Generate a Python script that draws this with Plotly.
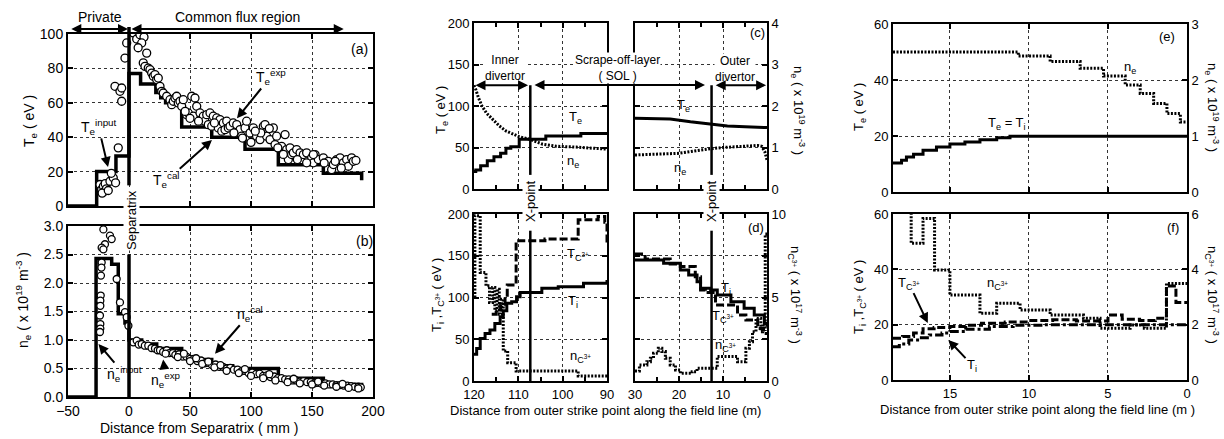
import plotly.graph_objects as go

W, H = 1224, 439
FONT = "Arial, Liberation Sans, Helvetica, sans-serif"

# ======================= DATA =======================
# (a) Te vs distance from separatrix (mm)
te_cal_x = [-50, -26.5, -10.7, 0, 9.5, 22, 26, 30, 43.2, 67.8, 95.1, 122.4, 159.3, 190.7]
te_cal_y = [0, 20, 29, 77, 71, 66, 63, 60, 46, 40, 33, 24, 19, 15]
te_exp = [(-23.8, 12.5), (-22.4, 9.6), (-21.0, 11.5), (-20.0, 8.6), (-19.5, 13.0), (-18.5, 10.0),
          (-22.0, 7.5), (-17.0, 9.0), (-15.6, 14.4), (-12.9, 16.4), (-14.5, 19.0), (-11.0, 13.5),
          (-8.8, 33.8), (-11.5, 69.6), (-7.4, 66.7), (-6.0, 68.6), (-6.0, 60.9), (-3.3, 86.0), (-1.9, 94.8),
          (3.6, 100.6), (6.3, 97.1), (9.0, 99.6), (12.3, 98.2), (10.4, 94.8), (7.5, 92.0), (14.5, 88.9),
          (11.7, 83.2), (13.1, 81.2), (15.8, 80.2), (17.2, 79.3), (18.6, 77.3), (19.9, 75.4), (21.3, 76.4),
          (22.7, 73.5), (24.0, 74.4), (25.4, 69.6), (26.8, 66.7), (28.1, 65.7), (30.9, 63.8), (33.6, 61.8),
          (35.0, 58.9), (36.3, 60.9), (37.7, 62.8), (39.1, 63.8), (40.4, 59.9), (41.8, 60.9), (43.2, 58.0),
          (44.5, 61.8), (47.3, 53.1), (48.6, 54.1), (51.4, 63.8), (52.7, 52.2), (54.1, 62.8), (55.5, 58.0),
          (58.2, 54.1), (59.6, 50.2), (60.9, 52.2), (62.3, 49.3), (63.7, 53.1), (65.0, 47.3), (66.4, 54.1),
          (67.8, 46.4), (69.1, 52.2), (71.9, 51.2), (73.2, 45.4), (74.6, 50.2), (76.0, 43.5), (77.3, 48.3),
          (78.7, 44.4), (80.1, 49.3), (81.4, 45.4), (82.8, 46.4), (85.5, 48.3), (88.3, 47.3), (91.0, 44.4),
          (92.3, 40.6), (95.1, 45.4), (96.4, 49.3), (99.2, 42.5), (101.9, 45.4), (104.6, 40.6), (107.4, 38.6),
          (110.1, 46.4), (111.5, 47.3), (112.8, 40.6), (115.6, 38.6), (118.3, 45.4), (119.7, 35.7),
          (121.0, 40.6), (125.1, 34.7), (127.9, 41.5), (129.2, 32.8), (130.6, 27.0), (132.0, 33.8),
          (133.3, 29.9), (134.7, 30.9), (137.4, 32.8), (140.2, 30.9), (142.9, 29.9), (145.6, 30.9),
          (149.7, 28.0), (151.1, 25.1), (152.5, 29.9), (155.2, 27.0), (159.3, 28.0), (163.4, 26.0),
          (166.1, 21.2), (167.5, 24.1), (170.2, 27.0), (173.0, 28.0), (175.7, 25.1), (178.4, 27.0),
          (179.8, 23.1), (182.5, 28.0), (183.9, 26.0), (145.6, 25.1), (151.1, 29.9), (138.0, 27.0),
          (122.0, 33.8), (108.0, 42.5), (100.0, 37.0), (93.0, 39.5), (86.0, 42.5), (70.0, 48.3),
          (57.0, 49.3), (46.0, 55.0), (50.0, 51.0), (115.0, 45.0), (103.5, 43.5), (126.5, 30.0),
          (160.0, 25.0), (169.0, 26.0), (186.0, 26.5), (174.0, 22.0)]

# (b) ne vs distance from separatrix (mm)
ne_cal_x = [-50, -27, -14.2, -8.8, -3.3, 0, 10.4, 22.7, 43.2, 50, 67.8, 85, 122.4, 159.3, 190.7]
ne_cal_y = [0, 2.43, 2.33, 1.46, 1.3, 1.0, 0.93, 0.85, 0.70, 0.66, 0.55, 0.50, 0.33, 0.22, 0.13]
ne_exp = [(-21.0, 2.94), (-15.6, 2.83), (-14.2, 2.77), (-19.7, 2.68), (-22.4, 2.62), (-21.0, 2.59),
          (-22.4, 2.36), (-22.6, 2.27), (-23.0, 2.13), (-23.2, 1.78), (-23.5, 1.69), (-23.5, 1.60),
          (-23.8, 1.43), (-23.5, 1.28), (-23.5, 1.20), (-23.8, 1.14), (-10.1, 2.07), (-7.4, 1.66),
          (-3.3, 1.49), (-1.9, 1.40), (-0.5, 1.25),
          (3.5, 0.96), (6.3, 0.99), (8.0, 0.92), (10.4, 0.93), (13.0, 0.90), (15.8, 0.90), (18.5, 0.86),
          (21.3, 0.85), (23.5, 0.82), (25.4, 0.82), (28, 0.79), (31, 0.82), (33, 0.77), (36, 0.77),
          (38, 0.74), (41, 0.75), (44, 0.71), (47, 0.71), (50, 0.67), (53, 0.67), (56, 0.63), (59, 0.64),
          (62, 0.59), (65, 0.60), (68, 0.56), (71, 0.57), (74, 0.53), (77, 0.53), (80, 0.50), (83, 0.51),
          (86, 0.48), (89, 0.48), (92, 0.45), (95, 0.46), (98, 0.42), (101, 0.43), (104, 0.40), (107, 0.41),
          (110, 0.37), (113, 0.38), (116, 0.35), (119, 0.36), (122, 0.33), (125, 0.33), (128, 0.31),
          (131, 0.31), (134, 0.29), (137, 0.29), (140, 0.27), (143, 0.28), (146, 0.26), (149, 0.26),
          (152, 0.24), (155, 0.25), (158, 0.23), (161, 0.24), (164, 0.22), (167, 0.22), (170, 0.21),
          (173, 0.21), (176, 0.20), (179, 0.20), (182, 0.19), (185, 0.18), (188, 0.18), (190, 0.17),
          (30, 0.76), (40, 0.70), (50, 0.63), (60, 0.58), (70, 0.52), (80, 0.46), (90, 0.42), (100, 0.37),
          (110, 0.33), (120, 0.29), (130, 0.26), (140, 0.24), (150, 0.22), (160, 0.20), (170, 0.18),
          (180, 0.16), (188, 0.15), (45, 0.76), (55, 0.68), (65, 0.62), (75, 0.56), (95, 0.49),
          (115, 0.40), (135, 0.32), (155, 0.27), (175, 0.23)]

# (c) Te (eV) and ne (1e19 m^-3) along field line (m); inner leg 120..90, outer leg 30..0
c_te_in_x = [120, 119.6, 118.5, 117, 115.5, 114, 112.8, 111.7, 109.8, 103.8, 95.9, 90]
c_te_in_y = [21, 23, 28, 34, 39, 43, 49, 51, 60, 64, 67, 68]
c_ne_in_x = [120, 119.6, 119.0, 118.2, 117.2, 115.8, 114.3, 112.8, 111.3, 109.8, 107.5, 104.5, 101.5, 97, 90]
c_ne_in_y = [2.5, 2.4, 2.2, 2.0, 1.83, 1.68, 1.52, 1.40, 1.32, 1.26, 1.20, 1.08, 1.03, 1.01, 0.96]
c_te_out_x = [30, 22, 17.4, 12.8, 9, 5, 0]
c_te_out_y = [85.2, 84.4, 81, 78.4, 76, 75, 74]
c_ne_out_x = [30, 24, 20, 17.4, 15, 12.8, 10, 6, 3, 2.1, 1.2, 0.5, 0]
c_ne_out_y = [0.82, 0.84, 0.86, 0.90, 0.94, 0.97, 1.0, 1.03, 1.05, 1.05, 1.03, 0.90, 0.70]

# (d) Ti, TC3+ (eV) and nC3+ (1e17 m^-3)
d_ti_in_x = [120, 119.4, 118.6, 117.5, 116.4, 115.3, 114.1, 113.4, 112.6, 111.5, 110.4, 109.6, 105.1, 104.7, 101.4, 101, 96, 95.3, 90]
d_ti_in_y = [32, 39, 51, 57, 61, 69, 77, 84, 93, 95, 101, 106, 106, 111, 111, 113, 113, 117, 121]
d_tc_in_x = [116, 115, 114, 113, 112.5, 111, 110.5, 110.5, 104, 96.5, 96.5, 93, 92, 90.5, 90]
d_tc_in_y = [80, 85, 92, 100, 115, 115, 125, 168, 170, 170, 193, 193, 197, 190, 165]
d_nc_in_x = [119.8, 119.8, 118.6, 118.6, 117.3, 116.5, 115.8, 115.3, 114.8, 114.3, 113.8, 113.4, 113.4, 112.4, 110.5, 96.5, 90]
d_nc_in_y = [5.0, 9.9, 9.0, 6.5, 5.7, 4.7, 5.6, 4.2, 5.5, 4.0, 4.9, 3.5, 1.8, 1.1, 0.6, 0.3, 0.3]
d_ti_out_x = [30, 26.6, 23.5, 19.7, 17.8, 15.9, 15.1, 12.8, 11.3, 8.2, 5.2, 2.9, 0.6, 0]
d_ti_out_y = [145, 145, 141, 133, 127, 119, 111, 109, 103, 95, 87, 79, 69, 65]
d_tc_out_x = [30, 27.7, 27.7, 22.0, 19.7, 16.3, 16.3, 15.1, 14.0, 11.7, 6.7, 4.8, 2.1, 0.8, 0]
d_tc_out_y = [152, 152, 146, 140, 137, 137, 125, 109, 106, 91, 79, 73, 63, 57, 57]
d_nc_out_x = [30, 29, 27.3, 26.5, 25.8, 24.7, 23.9, 23.1, 22, 20.8, 19.7, 17, 15.9, 12.2, 11.3, 6.7, 5.2, 4.8, 4.0, 3.3, 2.5, 1.4, 1.0, 0.4, 0.4, 0]
d_nc_out_y = [0.6, 0.96, 1.16, 1.36, 1.66, 1.96, 1.76, 1.36, 0.96, 0.66, 0.46, 0.56, 0.76, 0.76, 1.46, 1.16, 1.16, 1.96, 2.35, 2.95, 3.75, 2.95, 3.4, 3.0, 8.8, 8.8]

# (e) Te = Ti (eV) and ne (1e19 m^-3)
e_te_x = [18.6, 18.06, 17.75, 17.3, 16.7, 15.85, 15.0, 14.05, 13.1, 12.04, 11.2, 0]
e_te_y = [10.4, 11.3, 12.5, 13.5, 14.9, 16.1, 17.1, 17.9, 18.7, 19.4, 19.9, 20.0]
e_ne_x = [18.6, 10.67, 8.66, 6.76, 5.28, 3.91, 2.96, 2.11, 1.27, 0.42, 0]
e_ne_y = [2.50, 2.43, 2.33, 2.21, 2.07, 1.91, 1.76, 1.58, 1.40, 1.25, 1.25]

# (f) Ti, TC3+ (eV) and nC3+ (1e17 m^-3)
f_nc_x = [17.45, 17.45, 16.7, 15.97, 15.0, 13.1, 12.04, 10.56, 8.66, 6.55, 5.5, 3.6, 2.7, 1.3, 0]
f_nc_y = [6.3, 4.94, 5.84, 3.98, 3.07, 2.41, 2.77, 2.53, 2.35, 2.23, 1.87, 1.99, 1.87, 3.49, 3.49]
f_tc_x = [18.6, 18.0, 17.3, 16.7, 16.0, 15.0, 14.0, 13.0, 11.5, 10.0, 8.5, 7.0, 5.0, 4.1, 3.0, 2.0, 1.3, 0.7, 0]
f_tc_y = [15.1, 15.7, 17.0, 18.5, 19.0, 19.3, 19.8, 20.5, 21.0, 21.5, 21.8, 21.3, 23.5, 22.0, 21.5, 22.3, 34.0, 28.0, 28.0]
f_ti_x = [18.6, 18.2, 17.6, 16.9, 16.3, 15.5, 15.0, 14.0, 12.5, 11.0, 9.0, 7.0, 5.0, 3.0, 1.3, 0]
f_ti_y = [12.0, 13.0, 14.5, 15.3, 16.3, 17.0, 17.5, 18.3, 19.3, 19.8, 20.0, 20.0, 20.0, 20.0, 20.0, 20.0]

# positions of separatrix / X-points (data units)
x_sep = 0
x_xpt_in = 107.3
x_xpt_out = 12.6

# ======================= FIGURE =======================
fig = go.Figure()

DOT = "2px,1.5px"
DASH = "8px,3px"
DASHDOT = "9px,3px,3px,3px"


def line(x, y, xa, ya, dash="solid", width=3, shape="hv"):
    fig.add_trace(go.Scatter(x=x, y=y, xaxis=xa, yaxis=ya, mode="lines",
                             line=dict(color="black", width=width, dash=dash, shape=shape),
                             showlegend=False, hoverinfo="skip"))


def circles(pts, xa, ya, size):
    fig.add_trace(go.Scatter(x=[p[0] for p in pts], y=[p[1] for p in pts], xaxis=xa, yaxis=ya,
                             mode="markers",
                             marker=dict(symbol="circle", size=size, color="white",
                                         line=dict(color="black", width=1.3)),
                             showlegend=False, hoverinfo="skip", cliponaxis=True))


# (a)
line(te_cal_x, te_cal_y, "x", "y", width=3.5)
circles(te_exp, "x", "y", 8)
# (b)
line(ne_cal_x, ne_cal_y, "x2", "y2", width=3.5)
circles(ne_exp, "x2", "y2", 7)
# (c)
line(c_te_in_x, c_te_in_y, "x3", "y3", width=3)
line(c_ne_in_x, c_ne_in_y, "x3", "y4", dash=DOT, width=3, shape="linear")
line(c_te_out_x, c_te_out_y, "x4", "y5", width=3, shape="linear")
line(c_ne_out_x, c_ne_out_y, "x4", "y6", dash=DOT, width=3, shape="linear")
# (d)
line(d_ti_in_x, d_ti_in_y, "x5", "y7", width=3)
line(d_tc_in_x, d_tc_in_y, "x5", "y7", dash=DASH, width=3)
line(d_nc_in_x, d_nc_in_y, "x5", "y8", dash=DOT, width=3)
line(d_ti_out_x, d_ti_out_y, "x6", "y9", width=3)
line(d_tc_out_x, d_tc_out_y, "x6", "y9", dash=DASH, width=3)
line(d_nc_out_x, d_nc_out_y, "x6", "y10", dash=DOT, width=3)
# (e)
line(e_te_x, e_te_y, "x7", "y11", width=3)
line(e_ne_x, e_ne_y, "x7", "y12", dash=DOT, width=3)
# (f)
line(f_nc_x, f_nc_y, "x8", "y14", dash=DOT, width=3)
line(f_tc_x, f_tc_y, "x8", "y13", dash=DASH, width=3)
line(f_ti_x, f_ti_y, "x8", "y13", dash=DASHDOT, width=3)


def base_axis(size=13, **kw):
    d = dict(showline=True, linecolor="black", linewidth=2, mirror="ticks", ticks="inside",
             ticklen=5, tickwidth=1.5, tickcolor="black", showgrid=True, gridcolor="#333",
             griddash="dot", gridwidth=1, zeroline=False,
             tickfont=dict(size=size, color="black", family=FONT))
    d.update(kw)
    return d


def hdom(a, b):
    return [a / W, b / W]


def vdom(top, bottom):
    return [1 - bottom / H, 1 - top / H]


DA = hdom(68, 373)
DCL = hdom(474, 607)
DCR = hdom(635, 767)
DE = hdom(893, 1187)
YA = vdom(34, 206)
YB = vdom(226, 397)
YC = vdom(23, 189)
YD = vdom(214, 381)
YE = vdom(24, 192)
YF = vdom(214, 380)

minor5 = dict(dtick=5, ticks="inside", ticklen=4, tickcolor="black", showgrid=False)

layout_axes = dict(
    xaxis=base_axis(14, domain=DA, range=[-50, 200], dtick=50, anchor="y", showticklabels=False),
    yaxis=base_axis(14, domain=YA, range=[0, 100], dtick=20, anchor="x"),
    xaxis2=base_axis(14, domain=DA, range=[-50, 200], dtick=50, anchor="y2"),
    yaxis2=base_axis(14, domain=YB, range=[0, 3], dtick=0.5, tickformat=".1f", anchor="x2"),
    xaxis3=base_axis(domain=DCL, range=[120, 90], dtick=10, anchor="y3", showticklabels=False, minor=minor5),
    yaxis3=base_axis(domain=YC, range=[0, 200], dtick=50, anchor="x3"),
    yaxis4=dict(overlaying="y3", anchor="x3", range=[0, 4], visible=False),
    xaxis4=base_axis(domain=DCR, range=[30, 0], dtick=10, anchor="y5", showticklabels=False, minor=minor5),
    yaxis5=base_axis(domain=YC, range=[0, 200], dtick=50, anchor="x4", showticklabels=False),
    yaxis6=base_axis(overlaying="y5", anchor="x4", side="right", range=[0, 4], dtick=1, showgrid=False),
    xaxis5=base_axis(domain=DCL, range=[120, 90], dtick=10, anchor="y7", minor=minor5),
    yaxis7=base_axis(domain=YD, range=[0, 200], dtick=50, anchor="x5"),
    yaxis8=dict(overlaying="y7", anchor="x5", range=[0, 10], visible=False),
    xaxis6=base_axis(domain=DCR, range=[30, 0], dtick=10, anchor="y9", minor=minor5),
    yaxis9=base_axis(domain=YD, range=[0, 200], dtick=50, anchor="x6", showticklabels=False),
    yaxis10=base_axis(overlaying="y9", anchor="x6", side="right", range=[0, 10], dtick=5, showgrid=False),
    xaxis7=base_axis(domain=DE, range=[18.6, 0], dtick=5, anchor="y11", showticklabels=False),
    yaxis11=base_axis(domain=YE, range=[0, 60], dtick=20, anchor="x7"),
    yaxis12=base_axis(overlaying="y11", anchor="x7", side="right", range=[0, 3], dtick=1, showgrid=False),
    xaxis8=base_axis(domain=DE, range=[18.6, 0], dtick=5, anchor="y13"),
    yaxis13=base_axis(domain=YF, range=[0, 60], dtick=20, anchor="x8"),
    yaxis14=base_axis(overlaying="y13", anchor="x8", side="right", range=[0, 6], dtick=2, showgrid=False),
)

ann = []


def ptxt(xp, yp, s, size=13, angle=0, bg=None):
    a = dict(x=xp / W, y=1 - yp / H, xref="paper", yref="paper", text=s, showarrow=False,
             textangle=angle, font=dict(size=size, color="black", family=FONT),
             xanchor="center", yanchor="middle")
    if bg:
        a["bgcolor"] = bg
        a["borderpad"] = 0
    ann.append(a)


def dtxt(x, y, s, xr, yr, size=13):
    ann.append(dict(x=x, y=y, xref=xr, yref=yr, text=s, showarrow=False,
                    font=dict(size=size, color="black", family=FONT),
                    xanchor="center", yanchor="middle"))


def darrow(x, y, tx, ty, s, xr, yr, size=13):
    ann.append(dict(x=x, y=y, ax=tx, ay=ty, xref=xr, yref=yr, axref=xr, ayref=yr, text=s,
                    showarrow=True, arrowhead=2, arrowsize=1, arrowwidth=2, arrowcolor="black",
                    font=dict(size=size, color="black", family=FONT)))


def dbl(x0, x1, xr, yv, yr):
    # double-headed horizontal arrow from x0 to x1 at height yv
    ann.append(dict(x=x1, y=yv, ax=x0, ay=yv, xref=xr, yref=yr, axref=xr, ayref=yr, text="",
                    showarrow=True, arrowhead=2, arrowside="end+start", arrowsize=1,
                    arrowwidth=2, arrowcolor="black", startarrowhead=2, startarrowsize=1))


# axis titles
TE = "T<sub>e</sub> ( eV )"
NE19 = "n<sub>e</sub> ( x 10<sup>19</sup> m<sup>-3</sup> )"
TIC = "T<sub>i</sub> ,T<sub>C<sup>3+</sup></sub> ( eV )"
NC17 = "n<sub>C<sup>3+</sup></sub> ( x 10<sup>17</sup> m<sup>-3</sup> )"
ptxt(30, 121, TE, 14, -90)
ptxt(23, 300, NE19, 14, -90)
ptxt(442, 110, TE, 13, -90)
ptxt(798, 110, NE19, 13, 90)
ptxt(437, 295, TIC, 13, -90)
ptxt(795, 295, NC17, 13, 90)
ptxt(860, 107, TE, 13, -90)
ptxt(1212, 107, NE19, 13, 90)
ptxt(859, 297, TIC, 13, -90)
ptxt(1212, 295, NC17, 13, 90)
ptxt(199, 428, "Distance from Separatrix ( mm )", 14)
ptxt(605, 410, "Distance from outer strike point along the field line (m)", 13)
ptxt(1037, 409, "Distance from outer strike point along the field line (m )", 13)

# region labels
ptxt(100, 17, "Private", 14)
ptxt(237, 17, "Common flux region", 14)
ptxt(505, 68, "Inner<br>divertor", 12, bg="white")
ptxt(617, 68, "Scrape-off-layer<br>( SOL )", 12, bg="white")
ptxt(735, 69, "Outer<br>divertor", 12, bg="white")
ptxt(131, 220, "Separatrix", 13, -90, bg="white")
ptxt(530, 201, "X-point", 13, -90, bg="white")
ptxt(711, 201, "X-point", 13, -90, bg="white")

# double arrows
TOPY = 1 - 29 / H
dbl(-48.5, -0.8, "x", TOPY, "paper")
ann[-1]["ayref"] = "pixel"; ann[-1]["ay"] = 0
dbl(0.8, 176, "x", TOPY, "paper")
ann[-1]["ayref"] = "pixel"; ann[-1]["ay"] = 0
dbl(120, 107.8, "x3", 125, "y3")
dbl(12.0, 0.2, "x4", 125, "y5")
ann.append(dict(x=705 / W, y=1 - 85 / H, xref="paper", yref="paper", ax=-(705 - 533), ay=0,
                axref="pixel", ayref="pixel", text="", showarrow=True, arrowhead=2,
                arrowside="end+start", arrowsize=1, arrowwidth=2, arrowcolor="black"))

# panel (a) labels
dtxt(189, 91, "(a)", "x", "y", 14)
darrow(88.5, 51, 116, 75, "T<sub>e</sub><sup>exp</sup>", "x", "y", 14)
darrow(-17.2, 22.7, -25, 46, "T<sub>e</sub><sup>input</sup>", "x", "y", 14)
darrow(68, 38.4, 31, 15, "T<sub>e</sub><sup>cal</sup>", "x", "y", 14)
# panel (b) labels
dtxt(193, 2.74, "(b)", "x2", "y2", 14)
darrow(70.5, 0.76, 99, 1.46, "n<sub>e</sub><sup>cal</sup>", "x2", "y2", 14)
darrow(-25, 0.93, -4, 0.40, "n<sub>e</sub><sup>input</sup>", "x2", "y2", 14)
darrow(28, 0.66, 30, 0.30, "n<sub>e</sub><sup>exp</sup>", "x2", "y2", 14)
# panel (c)
dtxt(2.1, 189, "(c)", "x4", "y5", 13)
dtxt(97.2, 86, "T<sub>e</sub>", "x3", "y3")
dtxt(97.7, 33, "n<sub>e</sub>", "x3", "y3")
dtxt(19, 101, "T<sub>e</sub>", "x4", "y5")
dtxt(19.7, 25, "n<sub>e</sub>", "x4", "y5")
# panel (d)
dtxt(2.5, 184, "(d)", "x6", "y9", 13)
dtxt(96.5, 151, "T<sub>C<sup>3+</sup></sub>", "x5", "y7")
dtxt(97.7, 95, "T<sub>i</sub>", "x5", "y7")
dtxt(96, 29, "n<sub>C<sup>3+</sup></sub>", "x5", "y7")
dtxt(9.4, 111, "T<sub>i</sub>", "x6", "y9")
dtxt(9.9, 77, "T<sub>C<sup>3+</sup></sub>", "x6", "y9")
dtxt(9.4, 43, "n<sub>C<sup>3+</sup></sub>", "x6", "y9")
# panel (e)
dtxt(1.27, 55.4, "(e)", "x7", "y11", 13)
dtxt(3.6, 44.6, "n<sub>e</sub>", "x7", "y11")
dtxt(11.4, 24.6, "T<sub>e</sub> = T<sub>i</sub>", "x7", "y11")
# panel (f)
dtxt(0.9, 55, "(f)", "x8", "y13", 13)
dtxt(12.0, 35, "n<sub>C<sup>3+</sup></sub>", "x8", "y13")
darrow(16.4, 20.6, 17.6, 35, "T<sub>C<sup>3+</sup></sub>", "x8", "y13")
darrow(15.1, 14.5, 13.6, 5.4, "T<sub>i</sub>", "x8", "y13")

# separatrix / X-point lines
shapes = [
    dict(type="line", xref="x", yref="y", x0=x_sep, x1=x_sep, y0=12, y1=100, line=dict(color="black", width=3.5)),
    dict(type="line", xref="x", yref="paper", x0=x_sep, x1=x_sep, y0=1 - 34 / H, y1=1 - 27 / H, line=dict(color="black", width=3.5)),
    dict(type="line", xref="x2", yref="y2", x0=x_sep, x1=x_sep, y0=0, y1=2.5, line=dict(color="black", width=3.5)),
    dict(type="line", xref="x3", yref="y3", x0=x_xpt_in, x1=x_xpt_in, y0=17, y1=125, line=dict(color="black", width=2.5)),
    dict(type="line", xref="x4", yref="y5", x0=x_xpt_out, x1=x_xpt_out, y0=17, y1=125, line=dict(color="black", width=2.5)),
    dict(type="line", xref="x5", yref="y7", x0=x_xpt_in, x1=x_xpt_in, y0=0, y1=180, line=dict(color="black", width=2.5)),
    dict(type="line", xref="x6", yref="y9", x0=x_xpt_out, x1=x_xpt_out, y0=0, y1=180, line=dict(color="black", width=2.5)),
]

fig.update_layout(
    width=W, height=H, margin=dict(l=0, r=0, t=0, b=0, autoexpand=False),
    paper_bgcolor="white", plot_bgcolor="white",
    font=dict(family=FONT, color="black", size=13),
    showlegend=False, annotations=ann, shapes=shapes,
    **layout_axes,
)

fig.write_html("out.html", config={"displayModeBar": False},
               post_script="document.body.style.margin='0px';document.body.style.overflow='hidden';")
